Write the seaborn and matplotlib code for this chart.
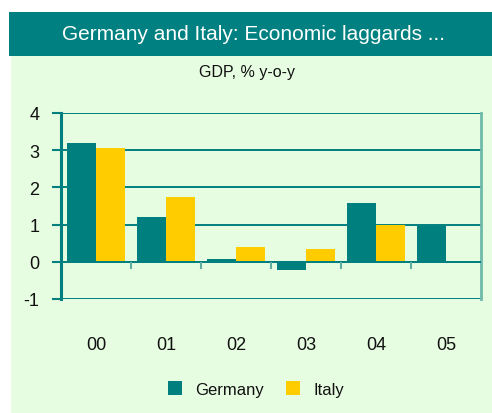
import matplotlib
matplotlib.use("Agg")
import matplotlib.pyplot as plt
import seaborn as sns
import pandas as pd
import numpy as np
from matplotlib.patches import Rectangle

years = ["00", "01", "02", "03", "04", "05"]
germany = [3.2, 1.2, 0.07, -0.23, 1.58, 0.95]
italy = [3.05, 1.75, 0.4, 0.35, 1.0, np.nan]
yticks = [-1, 0, 1, 2, 3, 4]
title = "Germany and Italy: Economic laggards ..."
subtitle = "GDP, % y-o-y"

TEAL = "#007F7F"
YELLOW = "#FFCC00"
BG = "#E7FDE1"

sns.set_theme(style="white")
plt.rcParams['font.family'] = ['Liberation Sans Narrow', 'Liberation Sans', 'DejaVu Sans']

df = pd.DataFrame({
    "year": years * 2,
    "value": germany + italy,
    "country": ["Germany"] * len(years) + ["Italy"] * len(years),
})

W, H = 492, 414
fig = plt.figure(figsize=(W / 100, H / 100), dpi=100)
fig.patch.set_facecolor("white")
# panel background
fig.patches.append(Rectangle((11 / W, 0), (W - 11) / W, (H - 57) / H,
                             transform=fig.transFigure, facecolor=BG, edgecolor="none", zorder=-5))
# header
fig.patches.append(Rectangle((9 / W, (H - 57) / H), (W - 9) / W, 44 / H,
                             transform=fig.transFigure, facecolor="#008080", edgecolor="none", zorder=-5))
fig.text(254 / W, 1 - 35 / H, title, color="white", fontsize=15, ha="center", va="center")
fig.text(247 / W, 1 - 72 / H, subtitle, color="#111111", fontsize=11.5, ha="center", va="center")

ax = fig.add_axes([61 / W, (H - 300) / H, 420 / W, 186 / H])
ax.set_facecolor(BG)
sns.barplot(data=df, x="year", y="value", hue="country", palette=[TEAL, YELLOW],
            width=0.83, saturation=1, ax=ax, legend=True, zorder=3, edgecolor="none")

ax.set_ylim(-1, 4)
ax.set_xlim(-0.5, 5.5)
ax.set_yticks(yticks)
ax.set_yticklabels([str(t) for t in yticks], fontsize=13, color="#111111")
for t in yticks:
    ax.axhline(t, color=TEAL, lw=1.4, zorder=1)
ax.axhline(0, color=TEAL, lw=1.4, zorder=4)
ax.vlines(np.arange(0.5, 5.5, 1.0), -0.2, 0, color="#5FAFA0", lw=1.5, zorder=4)

ax.set_xlabel("")
ax.set_ylabel("")
ax.tick_params(axis="x", length=0, pad=27, labelsize=13, labelcolor="#111111")
ax.tick_params(axis="y", length=6.5, width=1.5, color=TEAL, pad=9, left=True)
for s in ["top", "bottom"]:
    ax.spines[s].set_visible(False)
ax.spines["left"].set_color(TEAL)
ax.spines["left"].set_linewidth(2.2)
ax.spines["right"].set_color("#6FBAAA")
ax.spines["right"].set_linewidth(2)

leg = ax.legend(loc="center", bbox_to_anchor=(256 / W, 1 - 390 / H), bbox_transform=fig.transFigure,
                ncol=2, frameon=False, fontsize=12, handlelength=0.85, handleheight=0.85,
                columnspacing=1.3, handletextpad=0.8)
for txt in leg.get_texts():
    txt.set_color("#111111")

fig.savefig("out.png", dpi=100, facecolor=fig.get_facecolor())
